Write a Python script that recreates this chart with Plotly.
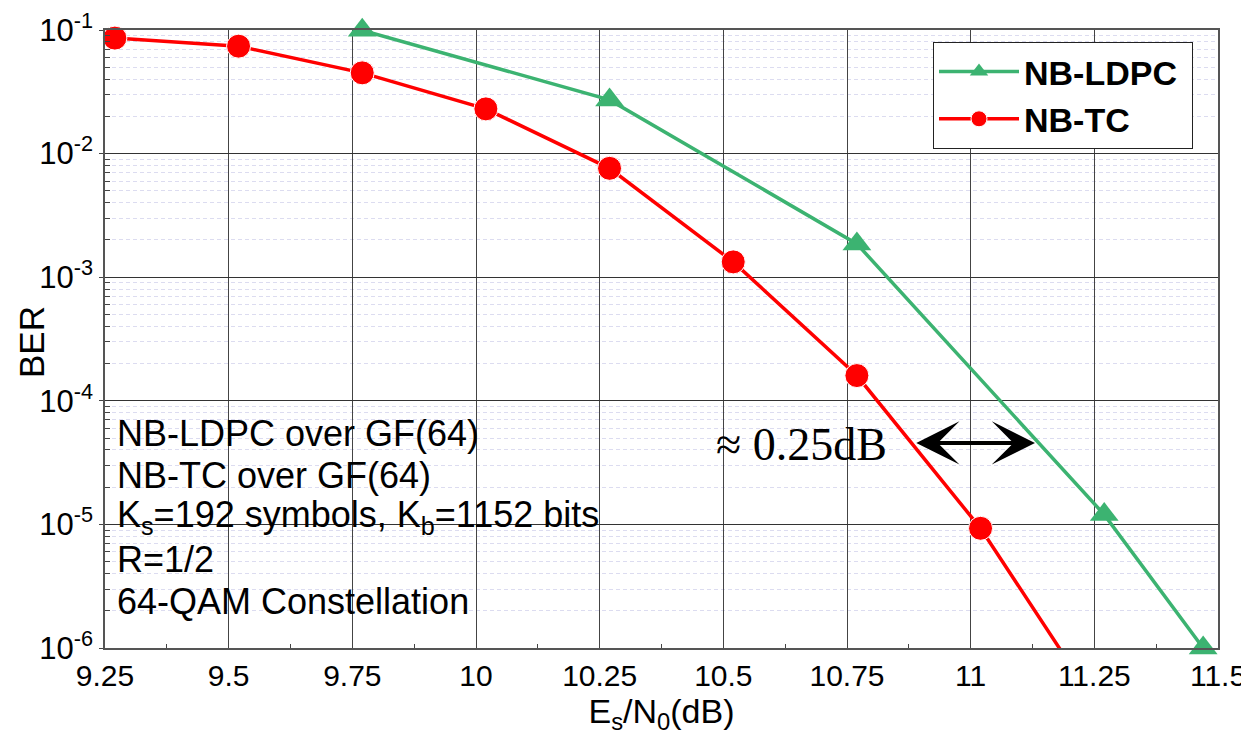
import math
import plotly.graph_objects as go

# ---------------- data ----------------
tc_x = [9.27, 9.52, 9.77, 10.02, 10.27, 10.52, 10.77, 11.02, 11.27]
tc_ber = [0.086, 0.074, 0.045, 0.023, 0.0076, 0.00133, 0.00016, 9.3e-6, 2.8e-7]

ldpc_x = [9.77, 10.27, 10.77, 11.27, 11.47]
ldpc_ber = [0.0995, 0.0272, 0.00186, 1.2e-5, 1.0e-6]

x_ticks = [9.25, 9.5, 9.75, 10, 10.25, 10.5, 10.75, 11, 11.25, 11.5]
x_tick_text = ["9.25", "9.5", "9.75", "10", "10.25", "10.5", "10.75", "11", "11.25", "11.5"]
x_minor = [9.375, 9.625, 9.875, 10.125, 10.375, 10.625, 10.875, 11.125, 11.375]

y_exps = [-1, -2, -3, -4, -5, -6]
y_ticks = [10.0 ** e for e in y_exps]
y_tick_text = ["10<sup>%d</sup>" % e for e in y_exps]
y_minor = [k * 10.0 ** e for e in range(-6, -1) for k in range(2, 10)]

info_lines = [
    "NB-LDPC over GF(64)",
    "NB-TC over GF(64)",
    "K<sub>s</sub>=192 symbols, K<sub>b</sub>=1152 bits",
    "R=1/2",
    "64-QAM Constellation",
]

gap_label = "\u2248 0.25dB"
gap_x = [10.887, 11.13]
gap_y = 4.56e-5

# ---------------- figure ----------------
# the page body has an 8px margin: size the figure so it fits the 1249x735 window
OFF = 8
W, H = 1249 - OFF, 735 - OFF
PL, PR, PT, PB = 105, 1218, 30, 648          # plot area in window pixels
ML, MR, MT, MB = PL - OFF, W + OFF - PR, PT - OFF, H + OFF - PB
PW, PH = PR - PL, PB - PT


def px2paper_x(px):
    return (px - PL) / PW


def px2paper_y(py):
    return 1 - (py - PT) / PH


GREEN = "#3cb371"
RED = "#ff0000"
FONT = "Liberation Sans, Arial, sans-serif"

fig = go.Figure()
fig.add_trace(go.Scatter(
    x=ldpc_x, y=ldpc_ber, name="NB-LDPC\u00a0", mode="lines+markers",
    line=dict(color=GREEN, width=3.5),
    marker=dict(symbol="triangle-up", size=25, color=GREEN, opacity=1),
    cliponaxis=False,
))
tc_sizes = [24] * (len(tc_x) - 1) + [0]
fig.add_trace(go.Scatter(
    x=tc_x, y=tc_ber, name="NB-TC", mode="lines+markers",
    line=dict(color=RED, width=3.5),
    marker=dict(symbol="circle", size=tc_sizes, color=RED, opacity=1),
    cliponaxis=False,
))

fig.update_layout(
    width=W, height=H,
    margin=dict(l=ML, r=MR, t=MT, b=MB, autoexpand=False),
    paper_bgcolor="white", plot_bgcolor="white",
    font=dict(family=FONT, color="black", size=30),
    showlegend=True,
    legend=dict(
        x=px2paper_x(1193), y=px2paper_y(42), xanchor="right", yanchor="top",
        bgcolor="white", bordercolor="#222", borderwidth=1,
        font=dict(family=FONT, size=34, color="black", weight="bold"),
        itemwidth=80, tracegroupgap=0,
    ),
    xaxis=dict(
        range=[9.25, 11.5], tickmode="array", tickvals=x_ticks, ticktext=x_tick_text,
        automargin=False, ticklabeloverflow="allow",
        showgrid=True, gridcolor="#444", gridwidth=1,
        ticks="inside", ticklen=4, tickcolor="#444",
        showline=True, linecolor="#555", linewidth=1.5, mirror=True,
        zeroline=False,
        tickfont=dict(size=30, family=FONT),
        minor=dict(tickmode="array", tickvals=x_minor, ticks="inside", ticklen=4,
                   tickcolor="#444", showgrid=False),
        title=dict(text="E<sub>s</sub>/N<sub>0</sub>(dB)", font=dict(size=34, family=FONT), standoff=8),
    ),
    yaxis=dict(
        type="log", range=[-6, -1], tickmode="array", tickvals=y_ticks, ticktext=y_tick_text,
        automargin=False, ticklabeloverflow="allow",
        showgrid=True, gridcolor="#333", gridwidth=1,
        ticks="outside", ticklen=4, tickcolor="#444",
        showline=True, linecolor="#555", linewidth=1.5, mirror=True,
        zeroline=False,
        tickfont=dict(size=31, family=FONT),
        minor=dict(tickmode="array", tickvals=y_minor, ticks="inside", ticklen=5,
                   tickcolor="#444", showgrid=True, gridcolor="#dcdcf0", griddash="4px,3px",
                   gridwidth=1),
    ),
)

# y-axis title as a rotated annotation
fig.add_annotation(
    text="BER", xref="paper", yref="paper", x=px2paper_x(31), y=px2paper_y(342),
    xanchor="center", yanchor="middle", showarrow=False, textangle=-90,
    font=dict(family=FONT, size=35, color="black"),
)

# white background box behind the info text (covers grid)
fig.add_shape(
    type="rect", xref="paper", yref="paper",
    x0=px2paper_x(116), x1=px2paper_x(599), y0=px2paper_y(625), y1=px2paper_y(411),
    fillcolor="white", line=dict(width=0), layer="between",
)

line_centers = [433.0, 475.0, 517.0, 559.0, 601.0]
for txt, cy in zip(info_lines, line_centers):
    fig.add_annotation(
        text=txt, xref="paper", yref="paper", x=px2paper_x(115), y=px2paper_y(cy),
        xanchor="left", yanchor="middle", showarrow=False, align="left",
        font=dict(family=FONT, size=36, color="black"),
    )

# gap annotation
fig.add_annotation(
    text=gap_label, xref="paper", yref="paper", x=px2paper_x(801), y=px2paper_y(444),
    xanchor="center", yanchor="middle", showarrow=False,
    font=dict(family="Liberation Serif, Times New Roman, serif", size=46, color="black"),
)
fig.add_annotation(
    x=gap_x[1], y=math.log10(gap_y), ax=gap_x[0], ay=math.log10(gap_y),
    xref="x", yref="y", axref="x", ayref="y", text="",
    showarrow=True, arrowside="end+start", arrowhead=3, startarrowhead=3,
    arrowsize=1.8, startarrowsize=1.8, arrowwidth=4, arrowcolor="black",
)

fig.write_html("out.html")
